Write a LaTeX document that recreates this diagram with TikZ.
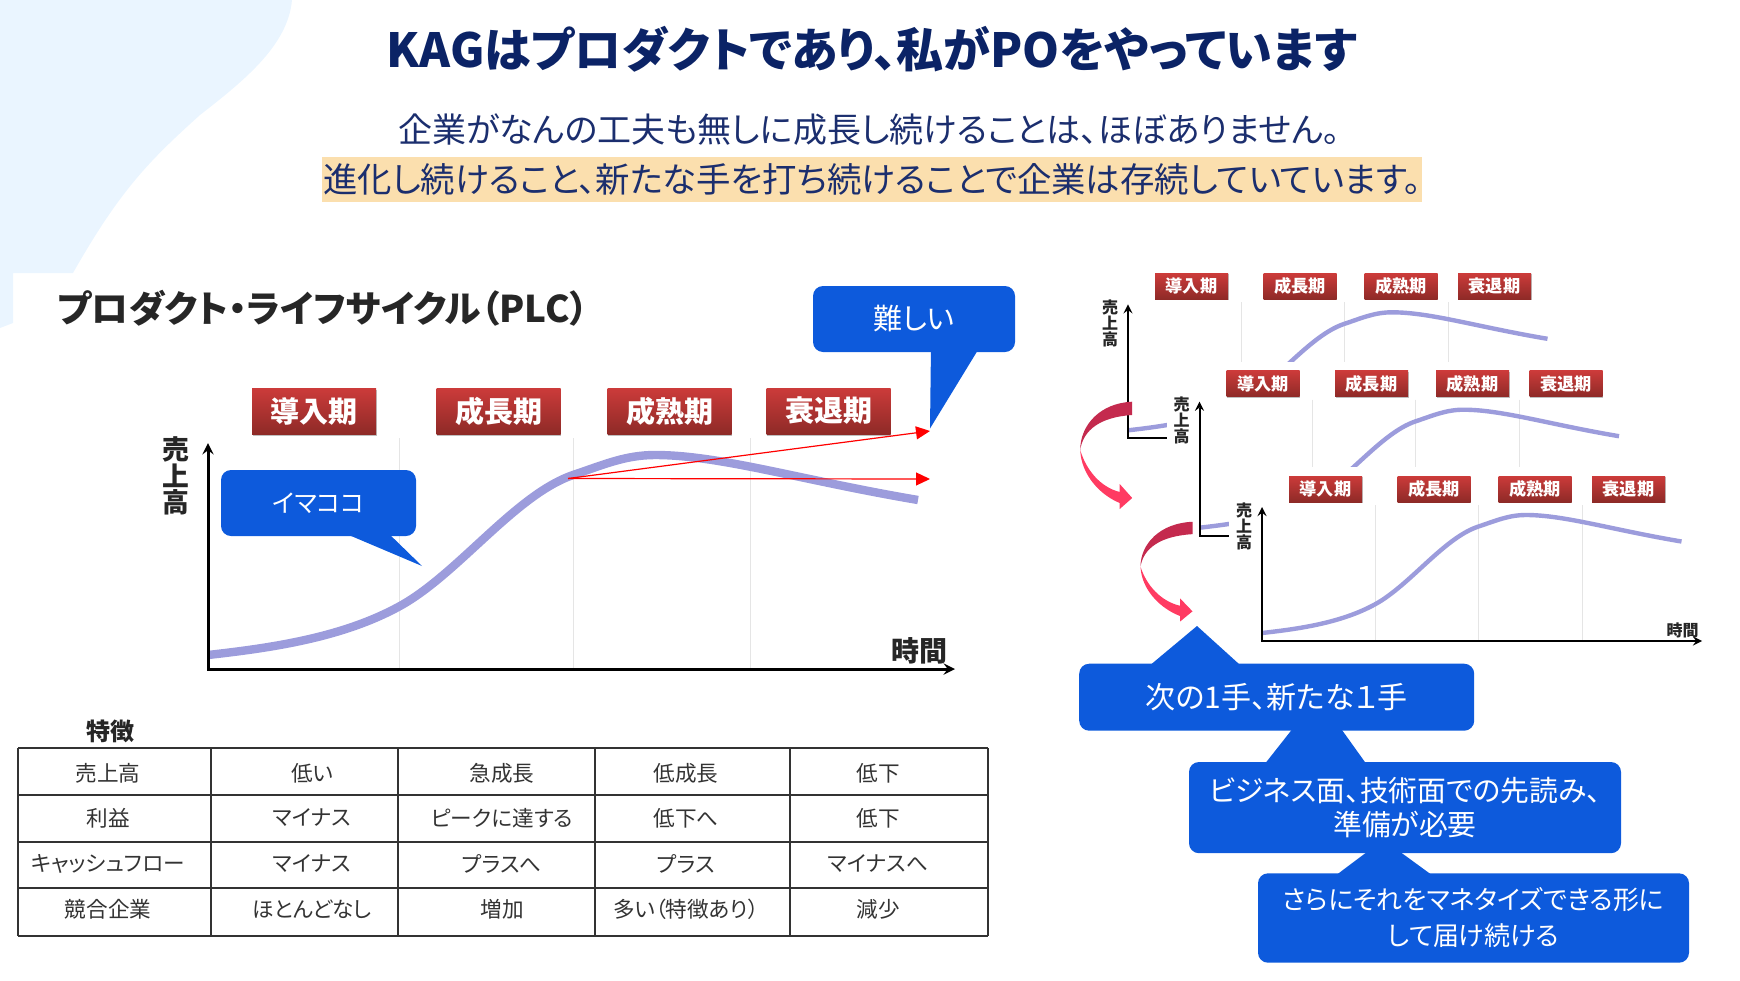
\documentclass[tikz,border=0pt]{standalone}
\usepackage{fontspec}
\setmainfont[RawFeature=+palt]{Noto Sans CJK JP}
\usetikzlibrary{arrows.meta, shadows}

\definecolor{blobblue}{HTML}{EAF5FF}
\definecolor{navy}{HTML}{0B2366}
\definecolor{subnavy}{HTML}{1B2E6E}
\definecolor{marker}{HTML}{FBDFAE}
\definecolor{callblue}{HTML}{0D5ADC}
\definecolor{plcline}{HTML}{9C9CDC}
\definecolor{labeltop}{HTML}{CC3B3A}
\definecolor{labelbottom}{HTML}{8E2A27}
\definecolor{backpink}{HTML}{C42A4E}
\definecolor{frontpink}{HTML}{FF3B62}

\newcommand{\fs}[1]{\fontsize{#1}{#1}\selectfont}

% one row of the table
\newcommand{\tablerow}[7]{
    \node (#1a) [celltext] at (108,#2) {#3};
    \node (#1b) [celltext] at (312,#2) {#4};
    \node (#1c) [celltext] at (502,#2) {#5};
    \node (#1d) [celltext] at (686,#2) {#6};
    \node (#1e) [celltext] at (878,#2) {#7};
}

% small chart, the front one sits at shift 0,0
\newcommand{\smallchart}[3]{
    \begin{scope}[shift={(#2,#3)}, name prefix=#1-]
        \fill[white] (1229,467) rectangle (1706,646);
        \foreach \gx in {1375,1478,1582}
            \draw [gridline] (\gx,505) -- (\gx,641);
        \node (intro) [smalllabel] at (1325.5,489) {導入期};
        \node (growth) [smalllabel] at (1434,489) {成長期};
        \node (mature) [smalllabel] at (1535,489) {成熟期};
        \node (decline) [smalllabel] at (1628.5,489) {衰退期};
        \node (sales) [smallstack] at (1244,526) {売\\上\\高};
        \coordinate (ytop) at (1262,507);
        \coordinate (org) at (1262,641);
        \coordinate (xend) at (1702,641);
        \draw [lifecurve, line width=2.2pt] (1262,633) .. controls (1298.6,628.9) and (1341.2,623) .. (1375.4,604.1) .. controls (1409.7,585.2) and (1443.4,538.6) .. (1477.6,526.8) .. controls (1495.4,520.9) and (1508.4,515) .. (1526,515) .. controls (1564.5,515) and (1611.8,529.8) .. (1681.5,541.5);
        \draw [axisline, line width=1pt] (ytop) -- (org) -- (xend);
    \end{scope}
}

% curved arrow, local origin at its thin waist
\newcommand{\turnarrow}[3]{
    \begin{scope}[shift={(#1,#2)}, yscale=#3]
        \fill[backpink] (52,-48.3) .. controls (20,-47) and (0,-25) .. (0,0) .. controls (3,-20) and (20,-33) .. (52,-35) -- cycle;
        \fill[frontpink] (0,0) .. controls (1,25) and (20,45) .. (39.5,53) -- (39.5,59) -- (52,48) -- (39.5,34) -- (39.5,42) .. controls (20,37) and (6,20) .. (0,0) -- cycle;
    \end{scope}
}

\begin{document}
\begin{tikzpicture}[x=0.5pt, y=-0.5pt]

    \tikzstyle{titletext} = [text=navy, font=\fs{23.5}\bfseries]
    \tikzstyle{subtext} = [text=subnavy, font=\fs{17}]
    \tikzstyle{callout} = [fill=callblue, rounded corners=5pt, text=white, align=center, inner sep=0pt, font=\fs{14.5}]
    \tikzstyle{tail} = [fill=callblue]
    \tikzstyle{biglabel} = [minimum width=62pt, minimum height=23pt, inner sep=0pt, top color=labeltop, bottom color=labelbottom, text=white, font=\fs{14.5}\bfseries, drop shadow={shadow xshift=0.4pt, shadow yshift=-0.8pt, fill=black!50}]
    \tikzstyle{smalllabel} = [minimum width=36.5pt, minimum height=13pt, inner sep=0pt, top color=labeltop, bottom color=labelbottom, text=white, font=\fs{8.6}\bfseries, drop shadow={shadow xshift=0.3pt, shadow yshift=-0.5pt, fill=black!50}]
    \tikzstyle{gridline} = [black!10, line width=0.5pt]
    \tikzstyle{lifecurve} = [plcline, line cap=butt]
    \tikzstyle{axisline} = [black, <->, >=stealth]
    \tikzstyle{bigstack} = [align=center, inner sep=0pt, text=black!85, font=\fs{13.4}\bfseries, text width=14pt]
    \tikzstyle{smallstack} = [align=center, inner sep=0pt, text=black!85, font=\fs{8}\bfseries, text width=9pt]
    \tikzstyle{redarrow} = [red, line width=0.6pt, ->, >={Triangle[length=7pt, width=6.5pt]}]
    \tikzstyle{tableline} = [black!80, line width=0.9pt]
    \tikzstyle{celltext} = [inner sep=0pt, text=black!80, font=\fs{10.8}]

    \useasboundingbox (0,0) rectangle (1740,980);

    % Background
    \fill[blobblue] (0,0) -- (292,0) .. controls (288,45) and (245,80) .. (200,115) .. controls (150,160) and (120,190) .. (73,273) -- (13,273) -- (13,323) -- (0,328) -- cycle;

    % Heading
    \node (title) [titletext] at (872,49) {KAGはプロダクトであり、私がPOをやっています};
    \node (line1) [subtext] at (869,130) {企業がなんの工夫も無しに成長し続けることは、ほぼありません。};
    \node (line2) [subtext, fill=marker, minimum width=550pt, minimum height=22.5pt, inner sep=0pt, font=\fs{17.2}] at (872,179) {進化し続けること、新たな手を打ち続けることで企業は存続していています。};

    % Main chart
    \node (plc) [anchor=west, inner sep=0pt, text=black!85, font=\fs{18.4}\bfseries] at (57,308) {プロダクト・ライフサイクル（PLC）};
    \foreach \gx in {399,573,750}
        \draw [gridline] (\gx,438) -- (\gx,668);
    \node (intro) [biglabel] at (314,411) {導入期};
    \node (growth) [biglabel] at (498.5,411) {成長期};
    \node (mature) [biglabel] at (669.5,411) {成熟期};
    \node (decline) [biglabel] at (828.5,411) {衰退期};
    \node (sales) [bigstack] at (176,476) {売\\上\\高};
    \node (time) [anchor=east, inner sep=0pt, text=black!85, font=\fs{14}\bfseries] at (948,651) {時間};
    \coordinate (ytop) at (208,443);
    \coordinate (org) at (208,669);
    \coordinate (xend) at (955,669);
    \draw [lifecurve, line width=4.2pt] (208,655) .. controls (270,648) and (342,638) .. (400,606) .. controls (458,574) and (515,495) .. (573,475) .. controls (603,465) and (625,455) .. (655,455) .. controls (720,455) and (800,480) .. (918,500);
    \draw [axisline, line width=1.5pt] (ytop) -- (org) -- (xend);

    % Red arrows
    \coordinate (turn) at (568,478.5);
    \coordinate (upend) at (930,431);
    \coordinate (flatend) at (930,479);
    \draw [redarrow] (turn) -- (upend);
    \draw [redarrow] (turn) -- (flatend);

    % Callouts on the chart
    \fill[tail] (337,530) -- (422,566) -- (385,530) -- cycle;
    \node (here) [callout, minimum width=97.5pt, minimum height=33pt, font=\fs{12.5}] at (318.5,503) {イマココ};
    \fill[tail] (931,345) -- (930,428.5) -- (981,345) -- cycle;
    \node (hard) [callout, minimum width=101pt, minimum height=33pt] at (914,319) {難しい};

    % Table
    \node (feature) [inner sep=0pt, text=black!85, font=\fs{12}\bfseries] at (110,731) {特徴};
    \foreach \cx in {18,211,398,595,790,988}
        \draw [tableline] (\cx,748) -- (\cx,936);
    \foreach \ry in {748,795,842,888,936}
        \draw [tableline] (18,\ry) -- (988,\ry);
    \tablerow{sale}{773}{売上高}{低い}{急成長}{低成長}{低下}
    \tablerow{gain}{818}{利益}{マイナス}{ピークに達する}{低下へ}{低下}
    \tablerow{cash}{864}{キャッシュフロー}{マイナス}{プラスへ}{プラス}{マイナスへ}
    \tablerow{rival}{909}{競合企業}{ほとんどなし}{増加}{多い（特徴あり）}{減少}

    % Small charts, back to front
    \smallchart{back}{-134}{-202.7}
    \smallchart{mid}{-62.5}{-105.3}
    \smallchart{front}{0}{0}
    \node (fronttime) [anchor=east, inner sep=0pt, text=black!85, font=\fs{8}\bfseries] at (1699,630) {時間};

    % Turning arrows
    \turnarrow{1080.2}{450}{1}
    \turnarrow{1140.5}{566.7}{0.93}

    % Callouts under the charts
    \fill[tail] (1146.7,668) -- (1197,626) -- (1243.4,668) -- cycle;
    \node (next) [callout, minimum width=197.5pt, minimum height=33.5pt, font=\fs{15}] at (1276.7,697.2) {次の1手、新たな１手};
    \fill[tail] (1261.6,768) -- (1295.5,725) -- (1338.4,725) -- (1369.2,768) -- cycle;
    \node (prepare) [callout, minimum width=216pt, minimum height=45.6pt, font=\fs{14.4}] at (1405,807.6) {ビジネス面、技術面での先読み、\\[3pt]準備が必要};
    \fill[tail] (1331,879) -- (1372.2,848) -- (1394.8,848) -- (1437.3,879) -- cycle;
    \node (monetize) [callout, minimum width=215.5pt, minimum height=44.7pt, font=\fs{13}] at (1473.5,918) {さらにそれをマネタイズできる形に\\[5pt]して届け続ける};

\end{tikzpicture}
\end{document}
